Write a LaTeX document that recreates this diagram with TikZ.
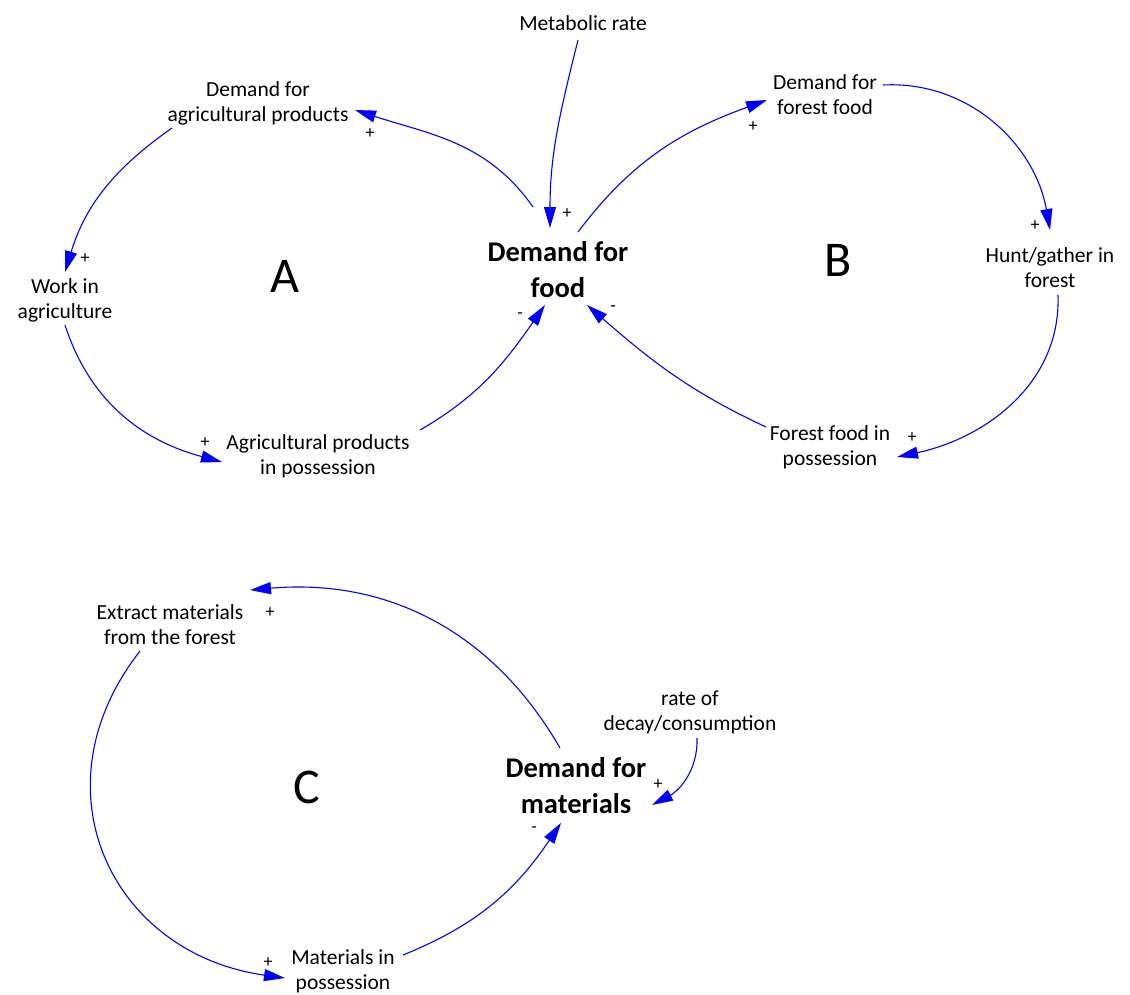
\documentclass[tikz,border=0pt]{standalone}
\usepackage{fontspec}
\setmainfont{Carlito}
\usetikzlibrary{arrows.meta}
\begin{document}
\begin{tikzpicture}[x=1pt,y=1pt,>={Triangle[length=21pt,width=12pt]},
    var/.style={align=center,font=\fontsize{21.5}{25}\selectfont,inner sep=4pt},
    key/.style={align=center,font=\fontsize{28.5}{36}\selectfont\bfseries,inner sep=6pt},
    loopname/.style={font=\fontsize{50}{60}\selectfont},
    link/.style={->,blue,line width=1.1pt},
    sign/.style={font=\fontsize{18}{20}\selectfont,inner sep=0pt}]
        \useasboundingbox (0,0) rectangle (1130,-994);
        % food loops
        \node[key] (dfood) at (558,-270) {Demand for\\food};
        \node[var] (met) at (583,-23) {Metabolic rate};
        \node[var] (dag) at (258,-103) {Demand for\\agricultural products};
        \node[var] (work) at (65,-300) {Work in\\agriculture};
        \node[var] (agp) at (318,-456) {Agricultural products\\in possession};
        \node[var] (dff) at (825,-95) {Demand for\\forest food};
        \node[var] (hunt) at (1050,-268) {Hunt/gather in\\forest};
        \node[var] (ffp) at (830,-447) {Forest food in\\possession};
        \node[loopname] (la) at (285,-276) {A};
        \node[loopname] (lb) at (838,-260) {B};
        \draw[link] ([shift={(-5,-17)}]met.center) to[out=-104,in=90] ([shift={(-8,42)}]dfood.center);
        \draw[link] ([shift={(-25,63)}]dfood.center) to[out=125,in=-18] ([shift={(97,-7)}]dag.center);
        \draw[link] ([shift={(-86,-25)}]dag.center) to[out=-145,in=73] ([shift={(0,28)}]work.center);
        \draw[link] ([shift={(0,-25)}]work.center) to[out=-72,in=165] ([shift={(-96,-6)}]agp.center);
        \draw[link] ([shift={(102,26)}]agp.center) to[out=30,in=-125] ([shift={(-13,-35)}]dfood.center);
        \draw[link] ([shift={(20,38)}]dfood.center) to[out=53,in=-160] ([shift={(-58,-5)}]dff.center);
        \draw[link] ([shift={(58,10)}]dff.center) to[out=3,in=100] ([shift={(0,38)}]hunt.center);
        \draw[link] ([shift={(8,-27)}]hunt.center) to[out=-88,in=12] ([shift={(67,-10)}]ffp.center);
        \draw[link] ([shift={(-64,20)}]ffp.center) to[out=155,in=-41] ([shift={(29,-35)}]dfood.center);
        \foreach \s/\x/\y in {+/567/-214, +/370/-134, +/85/-259, +/205/-443, -/520/-316,
                              +/753/-127, +/1035/-226, +/912/-438, -/613/-309}
            { \node[sign] at (\x,\y) {\s}; }
        % materials loop
        \node[key] (dmat) at (576,-786) {Demand for\\materials};
        \node[var] (ext) at (170,-625) {Extract materials\\from the forest};
        \node[var] (decay) at (690,-712) {rate of\\decay/consumption};
        \node[var] (matp) at (343,-971) {Materials in\\possession};
        \node[loopname] (lc) at (307,-787) {C};
        \draw[link] ([shift={(-16,38)}]dmat.center) to[out=120,in=5] ([shift={(80,35)}]ext.center);
        \draw[link] ([shift={(-30,-26)}]ext.center) to[out=-128,in=172,looseness=1.25] ([shift={(-58,-7)}]matp.center);
        \draw[link] ([shift={(60,16)}]matp.center) to[out=22,in=-124] ([shift={(-15,-37)}]dmat.center);
        \draw[link] ([shift={(7,-26)}]decay.center) to[out=-88,in=28] ([shift={(76,-19)}]dmat.center);
        \foreach \s/\x/\y in {+/270/-613, +/268/-963, -/534/-830, +/658/-785}
            { \node[sign] at (\x,\y) {\s}; }
\end{tikzpicture}
\end{document}
